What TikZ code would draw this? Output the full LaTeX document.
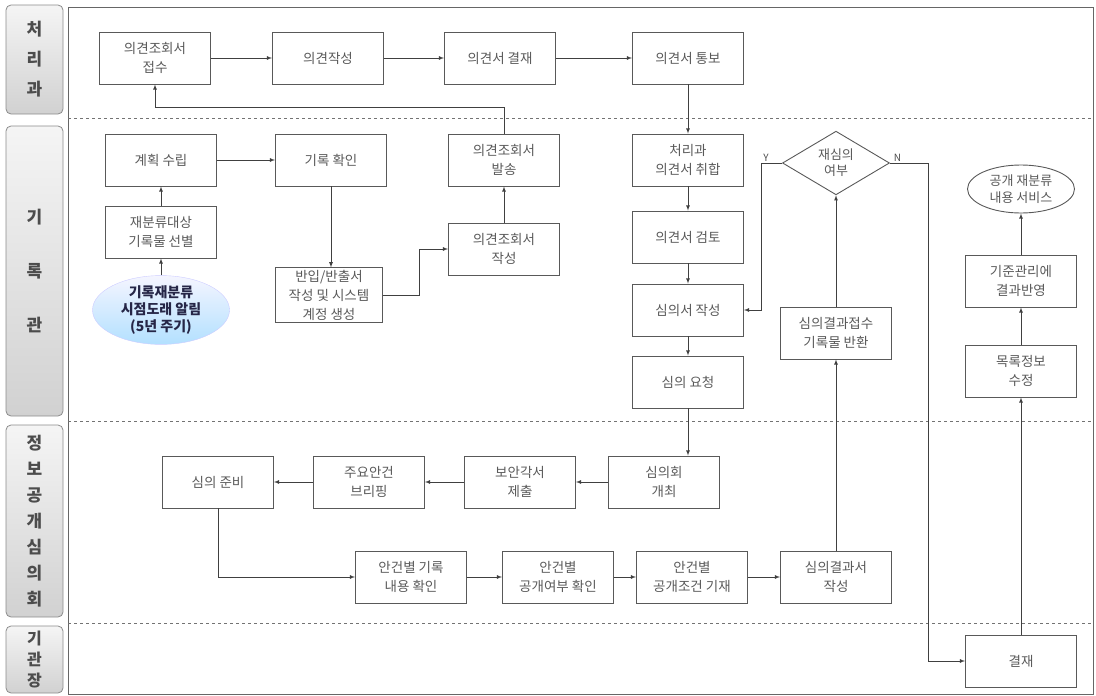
\documentclass[tikz,border=0pt]{standalone}
\usepackage{fontspec}
\setmainfont{Noto Sans CJK KR}
\usetikzlibrary{shapes.geometric}

\begin{document}
\begin{tikzpicture}[x=1pt,y=-1pt,
				box/.style={draw=black!65,line width=0.9pt,minimum width=111pt,minimum height=52pt,
					align=center,inner sep=2pt,text=black!65,font=\fontsize{13.5}{19}\selectfont},
				lane/.style={draw=black!45,line width=0.8pt,rounded corners=5pt,minimum width=57pt,
					top color=black!4,bottom color=black!18,align=center,text=black!70,
					font=\bfseries\fontsize{17}{22}\selectfont},
				arr/.style={-latex,draw=black!75,line width=0.8pt},
				yn/.style={text=black!70,inner sep=1pt,font=\fontsize{10}{12}\selectfont}]
				\useasboundingbox (0,0) rectangle (1096,696);
				% frame and lanes
				\draw[black!60,line width=1pt] (68,7) rectangle (1093,694);
				\foreach \y in {118,421,623}
					\draw[dashed,black!55] (68,\y) -- (1093,\y);
				\node[lane,minimum height=109pt] (l1) at (34.5,59.5) {처\\[8pt]리\\[8pt]과};
				\node[lane,minimum height=290pt] (l2) at (34.5,271) {기\\[32pt]록\\[32pt]관};
				\node[lane,minimum height=192pt] (l3) at (34.5,521) {정\\[4pt]보\\[4pt]공\\[4pt]개\\[4pt]심\\[4pt]의\\[4pt]회};
				\node[lane,minimum height=67pt,font=\bfseries\fontsize{16}{21}\selectfont] (l4) at (34.5,659.5) {기\\관\\장};
				% 처리과
				\node[box] (jeopsu) at (155,58) {의견조회서\\접수};
				\node[box] (jakseong) at (328,58) {의견작성};
				\node[box] (gyeoljae1) at (500,58) {의견서 결재};
				\node[box] (tongbo) at (688,58) {의견서 통보};
				% 기록관 left
				\node[box] (gyehoek) at (161,160) {계획 수립};
				\node[box] (seonbyeol) at (161,232) {재분류대상\\기록물 선별};
				\node[ellipse,minimum width=137pt,minimum height=68pt,inner sep=0pt,draw=blue!20,
					top color=blue!4,bottom color=blue!40!cyan!30,align=center,text=blue!15!black!85,
					font=\bfseries\fontsize{14}{17}\selectfont] (allim) at (161,310) {기록재분류\\시점도래 알림\\(5년 주기)};
				\node[box] (hwagin) at (331,160) {기록 확인};
				\node[box,minimum width=107pt] (banip) at (329,295) {반입/반출서\\작성 및 시스템\\계정 생성};
				\node[box] (balsong) at (504,160) {의견조회서\\발송};
				\node[box] (opjak) at (504,249) {의견조회서\\작성};
				% 기록관 right
				\node[box] (chwihap) at (688,160) {처리과\\의견서 취합};
				\node[box] (geomto) at (688,237) {의견서 검토};
				\node[box] (simuiseo) at (688,310) {심의서 작성};
				\node[box] (yocheong) at (688,382) {심의 요청};
				\node[diamond,draw=black!65,line width=0.9pt,minimum width=107pt,minimum height=52pt,
					inner sep=0pt,align=center,text=black!65,font=\fontsize{13}{16}\selectfont] (jaesim) at (836,163) {재심의\\여부};
				\node[box] (banhwan) at (836,333) {심의결과접수\\기록물 반환};
				\node[ellipse,draw=black!65,line width=0.9pt,minimum width=107pt,minimum height=48pt,
					inner sep=0pt,align=center,text=black!65,font=\fontsize{13}{17}\selectfont] (service) at (1021,189) {공개 재분류\\내용 서비스};
				\node[box] (gijun) at (1021,281) {기준관리에\\결과반영};
				\node[box] (mongnok) at (1021,371) {목록정보\\수정};
				% 정보공개심의회
				\node[box] (gaechoe) at (664,482) {심의회\\개최};
				\node[box] (boan) at (520,482) {보안각서\\제출};
				\node[box] (briefing) at (369,482) {주요안건\\브리핑};
				\node[box] (junbi) at (218,482) {심의 준비};
				\node[box] (naeyong) at (411,577) {안건별 기록\\내용 확인};
				\node[box] (yeobu) at (558,577) {안건별\\공개여부 확인};
				\node[box] (jogeon) at (692,577) {안건별\\공개조건 기재};
				\node[box] (gyeolgwa) at (836,577) {심의결과서\\작성};
				% 기관장
				\node[box] (gyeoljae2) at (1021,661) {결재};
				% connectors
				\draw[arr] (jeopsu) -- (jakseong);
				\draw[arr] (jakseong) -- (gyeoljae1);
				\draw[arr] (gyeoljae1) -- (tongbo);
				\draw[arr] (tongbo) -- (chwihap);
				\draw[arr] (balsong.north) -- ++(0,-26) -| (jeopsu.south);
				\draw[arr] (allim) -- (seonbyeol);
				\draw[arr] (seonbyeol) -- (gyehoek);
				\draw[arr] (gyehoek) -- (hwagin);
				\draw[arr] (hwagin.south) -- (hwagin.south |- banip.north);
				\draw[arr] (banip.east) -- ++(36,0) |- (opjak.west);
				\draw[arr] (opjak) -- (balsong);
				\draw[arr] (chwihap) -- (geomto);
				\draw[arr] (geomto) -- (simuiseo);
				\draw[arr] (simuiseo) -- (yocheong);
				\draw[arr] (yocheong.south) -- (yocheong.south |- gaechoe.north);
				\draw[arr] (gaechoe) -- (boan);
				\draw[arr] (boan) -- (briefing);
				\draw[arr] (briefing) -- (junbi);
				\draw[arr] (junbi.south) |- (naeyong.west);
				\draw[arr] (naeyong) -- (yeobu);
				\draw[arr] (yeobu) -- (jogeon);
				\draw[arr] (jogeon) -- (gyeolgwa);
				\draw[arr] (gyeolgwa) -- (banhwan);
				\draw[arr] (banhwan) -- (jaesim);
				\draw[arr] (jaesim.west) -- ++(-21,0) node[yn,above,xshift=5pt] {Y} |- (simuiseo.east);
				\draw[arr] (jaesim.east) -- node[yn,pos=0.2,above] {N} ++(38,0) |- (gyeoljae2.west);
				\draw[arr] (gyeoljae2) -- (mongnok);
				\draw[arr] (mongnok) -- (gijun);
				\draw[arr] (gijun) -- (service);
			\end{tikzpicture}
\end{document}
